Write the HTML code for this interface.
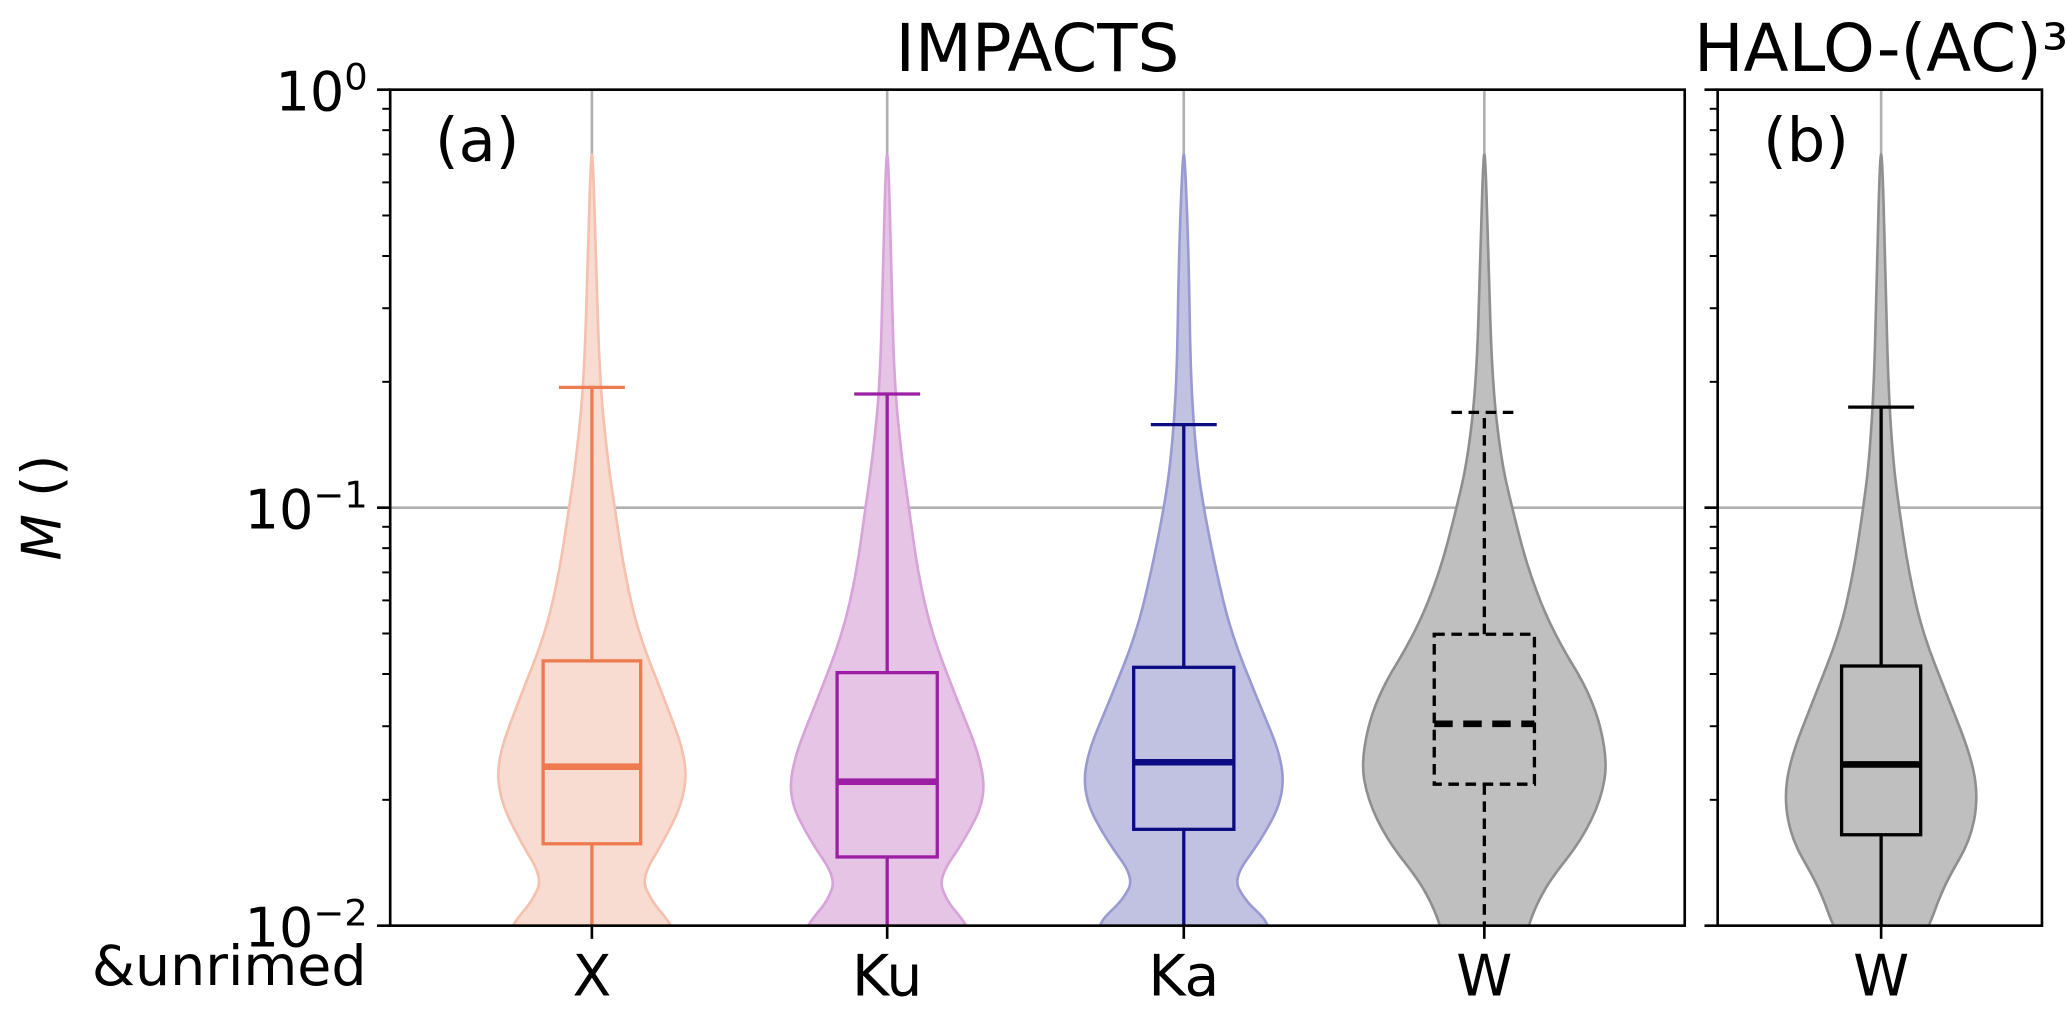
<!DOCTYPE html>
<html><head><meta charset="utf-8"><style>
body{margin:0;background:#fff;overflow:hidden}
svg{display:block;font-family:"DejaVu Sans","Liberation Sans",sans-serif}
</style></head><body>
<svg id="c" width="2067" height="1014" viewBox="0 0 1568 769" preserveAspectRatio="none"></svg>
<script>
const categories=["X","Ku","Ka","W"];
const panelBCategories=["W"];
const q1=[0.0157,0.0146,0.0170,0.0218];
const medians=[0.0240,0.0221,0.0246,0.0304];
const q3=[0.043,0.0403,0.0415,0.0498];
const whiskerTop=[0.194,0.187,0.158,0.169];
const bQ1=[0.0165],bMed=[0.0243],bQ3=[0.0418],bWhisk=[0.174];
const violinVals=[0.01,0.0105,0.0115,0.013,0.016,0.02,0.025,0.035,0.05,0.07,0.1,0.13,0.2,0.4,0.7];
const densX =[0.80,0.74,0.60,0.50,0.73,0.93,0.96,0.73,0.47,0.33,0.23,0.16,0.08,0.04,0.01];
const densKu=[0.80,0.74,0.60,0.52,0.78,0.99,0.95,0.70,0.45,0.31,0.22,0.15,0.07,0.04,0.01];
const densKa=[0.85,0.80,0.62,0.50,0.78,1.00,1.00,0.74,0.48,0.33,0.20,0.13,0.07,0.05,0.01];
const densW =[0.45,0.48,0.55,0.68,0.98,1.18,1.25,1.10,0.70,0.45,0.28,0.17,0.08,0.04,0.01];
const densB =[0.48,0.52,0.58,0.68,0.90,0.98,0.92,0.68,0.42,0.28,0.18,0.12,0.07,0.04,0.01];
const yTickLabels=["10","10","10"];const yTickExp=["0","−1","−2"];const yTickVals=[1,0.1,0.01];

const NS="http://www.w3.org/2000/svg",svg=document.getElementById('c');
function el(t,a,p){const e=document.createElementNS(NS,t);for(const k in a)e.setAttribute(k,a[k]);(p||svg).appendChild(e);return e;}
const plotTop=68,plotBot=702;
function y(v){return plotTop+(-Math.log10(v))*(plotBot-plotTop)/2;}
const ax={x0:296,x1:1278,cx:[449,673,898,1126]};
const bx={x0:1303,x1:1549,cx:[1427]};
const fills=["#f8dbd1","#e6c4e6","#c1c1e1","#bfbfbf"];
const edges=["#f5c0ad","#d8a3d8","#9a9ad2","#8f8f8f"];
const lines=["#ee7a50","#9c1ea4","#0b0b82","#000000"];
const dens=[densX,densKu,densKa,densW];
const SC=75;
function violin(cx,d,fill,edge,name){
 let pts=[];for(let i=0;i<violinVals.length;i++)pts.push([cx+d[i]*SC,y(violinVals[i])]);
 let l=[];for(let i=violinVals.length-1;i>=0;i--)l.push([cx-d[i]*SC,y(violinVals[i])]);
 const all=pts.concat(l);
 let p="M"+all[0].join(",");
 for(let i=1;i<all.length;i++){const a=all[i-1],b=all[i];const my=(a[1]+b[1])/2;p+=" Q"+a[0]+","+a[1]+" "+((a[0]+b[0])/2)+","+my;}
 p+=" L"+all[all.length-1].join(",")+"Z";
 const e=el('path',{d:p,fill:fill,stroke:edge,'stroke-width':2});
 
 
}
function box(cx,hw,a,m,b,w,col,dash,name){
 const g=el('g',{stroke:col,fill:'none','stroke-width':2.5});
 
 
 const da=dash?{'stroke-dasharray':'8,5'}:{};
 el('rect',Object.assign({x:cx-hw,y:y(b),width:2*hw,height:y(a)-y(b)},da),g);
 el('line',Object.assign({x1:cx,x2:cx,y1:y(b),y2:y(w)},da),g);
 el('line',Object.assign({x1:cx,x2:cx,y1:y(a),y2:plotBot},da),g);
 el('line',Object.assign({x1:cx-25,x2:cx+25,y1:y(w),y2:y(w)},da),g);
 el('line',Object.assign({x1:cx-hw,x2:cx+hw,y1:y(m),y2:y(m),'stroke-width':5},dash?{'stroke-dasharray':'14,8'}:{}),g);
}
function panel(P){
 el('rect',{x:P.x0,y:plotTop,width:P.x1-P.x0,height:plotBot-plotTop,fill:'#fff'});
 P.cx.forEach(c=>el('line',{x1:c,x2:c,y1:plotTop,y2:plotBot,stroke:'#b0b0b0','stroke-width':2}));
 P.cx.forEach(c=>el('line',{x1:c,x2:c,y1:plotBot,y2:plotBot+10,stroke:'#000','stroke-width':2}));
 el('line',{x1:P.x0,x2:P.x1,y1:y(0.1),y2:y(0.1),stroke:'#b0b0b0','stroke-width':2});
 for(let dec=-2;dec<=0;dec++){for(let k=1;k<=9;k++){const v=k*Math.pow(10,dec);if(v>1)break;const yy=y(v);
  el('line',{x1:P.x0,x2:P.x0-(k==1?10:6),y1:yy,y2:yy,stroke:'#000','stroke-width':k==1?2:1.5});}}
}
panel(ax);panel(bx);
categories.forEach((c,i)=>{violin(ax.cx[i],dens[i],fills[i],edges[i],'violin-'+c.toLowerCase());});
categories.forEach((c,i)=>{box(ax.cx[i],i==0?37:38,q1[i],medians[i],q3[i],whiskerTop[i],lines[i],i==3,'box-'+c.toLowerCase());});
violin(bx.cx[0],densB,fills[3],edges[3],'violin-b-w');
box(bx.cx[0],30,bQ1[0],bMed[0],bQ3[0],bWhisk[0],'#000',false,'box-b-w');
[ax,bx].forEach(P=>el('rect',{x:P.x0,y:plotTop,width:P.x1-P.x0,height:plotBot-plotTop,fill:'none',stroke:'#000','stroke-width':2}));
function txt(x,yy,s,size,anchor,name){const t=el('text',{x:x,y:yy,'font-size':size,'text-anchor':anchor||'middle',fill:'#000'});t.textContent=s;return t;}
yTickVals.forEach((v,i)=>{const t=txt(279,y(v)+16,yTickLabels[i],41,'end','y-tick-label');const s=el('tspan',{'font-size':28,dy:-16},t);s.textContent=yTickExp[i];});
categories.forEach((c,i)=>txt(ax.cx[i],755,c,43,'middle','x-tick-'+c.toLowerCase()));
txt(bx.cx[0],755,panelBCategories[0],43,'middle','x-tick-b-w');
txt(278,747,"&unrimed",42,'end','row-label');
txt(787,54,"IMPACTS",50,'middle','title-impacts');
txt(1427,54,"HALO-(AC)³",50,'middle','title-halo');
txt(362,122,"(a)",46,'middle','panel-label-a');
txt(1370,122,"(b)",46,'middle','panel-label-b');
const yl=txt(0,0,"",41,'middle','y-axis-title');yl.setAttribute('transform','translate(46,385) rotate(-90)');
const t1=el('tspan',{'font-style':'italic'},yl);t1.textContent="M";const t2=el('tspan',{},yl);t2.textContent=" ()";
</script>
</body></html>
